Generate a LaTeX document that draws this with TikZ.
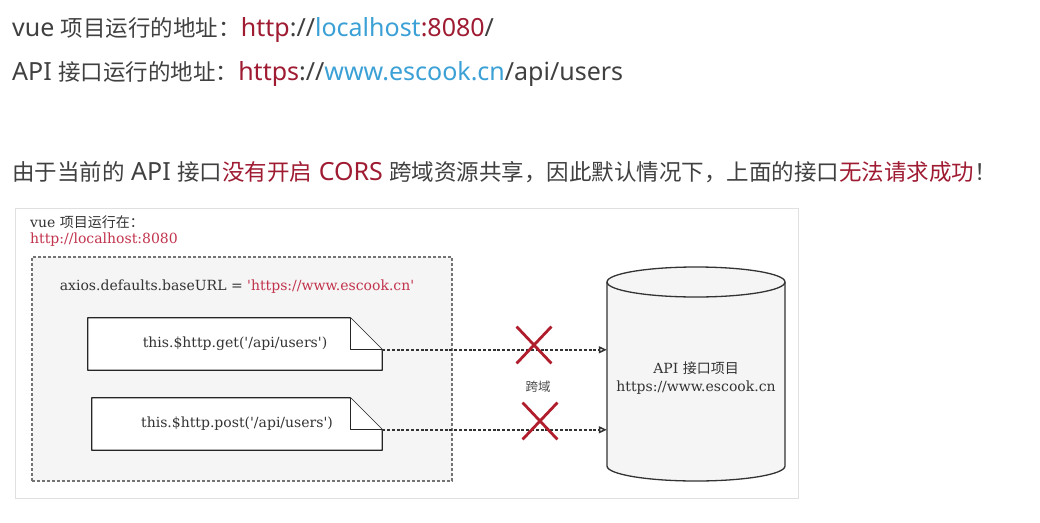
\documentclass[tikz,border=0pt]{standalone}
\usepackage{fontspec}
\setmainfont{Noto Sans}
\newfontfamily\dgm{DejaVu Serif}
\newfontfamily\cjk{Noto Sans CJK SC}
\newcommand\zh[1]{{\cjk\fontsize{22.5}{26}\selectfont #1}}
\usetikzlibrary{positioning, arrows.meta, calc, shapes.misc}
\definecolor{txtgray}{HTML}{404040}
\definecolor{hired}{HTML}{9E1B32}
\definecolor{hiblue}{HTML}{3AA0D5}
\definecolor{pinkred}{HTML}{C2334D}
\definecolor{crossred}{HTML}{B01E2D}

\begin{document}
\begin{tikzpicture}[x=1pt, y=-1pt,
    line/.style = {anchor=base west, inner sep=0pt, text=txtgray, font=\fontsize{25}{28}\selectfont},
    small/.style = {inner sep=0pt, text=black!80, font=\dgm\fontsize{14}{18}\selectfont},
    note/.style = {draw=black!85, line width=1.3pt, fill=white, line join=round},
    req/.style = {dash pattern=on 3pt off 1.8pt, line width=1.5pt, black!80, -{Triangle[open, length=8pt, width=7pt]}},
    cross/.style = {cross out, draw=crossred, line width=2.8pt, inner sep=0pt, minimum width=32pt, minimum height=34pt}]
    \useasboundingbox (0,0) rectangle (1040,522);

    % text above the picture
    \node[line] (vueaddr) at (12,36) {vue \zh{项目运行的地址：}\textcolor{hired}{http}://\textcolor{hiblue}{localhost}\textcolor{hired}{:8080}/};
    \node[line] (apiaddr) at (12,80) {API \zh{接口运行的地址：}\textcolor{hired}{https}://\textcolor{hiblue}{www.escook.cn}/api/users};
    \node[line] (reason) at (12,180) {\zh{由于当前的} API \zh{接口}\textcolor{hired}{\zh{没有开启} CORS} \zh{跨域资源共享，因此默认情况下，上面的接口}\textcolor{hired}{\zh{无法请求成功}}\zh{！}};

    % picture
    \draw[draw=black!12, fill=white] (15,208) rectangle (798,498);
    \node[small, anchor=north west] (vuelabel) at (30,216) {vue {\cjk 项目运行在：}};
    \node[small, text=pinkred] (vueurl) [below=3pt of vuelabel.south west, anchor=north west] {http://localhost:8080};
    \node[draw=black!55, densely dashed, line width=1.1pt, fill=black!4, minimum width=420pt, minimum height=224pt] (vuebox) at (242,369) {};
    \node[small] (axios) at (237,287) {axios.defaults.baseURL = \textcolor{pinkred}{'https://www.escook.cn'}};

    \path (235,344) node[minimum width=294pt, minimum height=52pt] (get) {};
    \draw[note] (get.south west) -- (get.north west) -- ([xshift=-32pt]get.north east) -- ([yshift=-32pt]get.north east) -- (get.south east) -- cycle;
    \draw[note] ([xshift=-32pt]get.north east) -- ([xshift=-32pt, yshift=-32pt]get.north east) -- ([yshift=-32pt]get.north east);
    \node[small] (gettext) at (get) {this.\$http.get('/api/users')};

    \path (237,424) node[minimum width=290pt, minimum height=52pt] (post) {};
    \draw[note] (post.south west) -- (post.north west) -- ([xshift=-32pt]post.north east) -- ([yshift=-32pt]post.north east) -- (post.south east) -- cycle;
    \draw[note] ([xshift=-32pt]post.north east) -- ([xshift=-32pt, yshift=-32pt]post.north east) -- ([yshift=-32pt]post.north east);
    \node[small] (posttext) at (post) {this.\$http.post('/api/users')};

    % server
    \filldraw[draw=black!80, fill=black!4, line width=1.3pt] (607,282) -- (607,466) arc[start angle=180, end angle=360, x radius=89pt, y radius=15pt] -- (785,282) arc[start angle=0, end angle=180, x radius=89pt, y radius=15pt] -- cycle;
    \draw[black!80, line width=1.3pt] (607,282) arc[start angle=180, end angle=360, x radius=89pt, y radius=15pt];
    \node[small, align=center, minimum width=178pt] (api) at (696,378) {API {\cjk 接口项目}\\https://www.escook.cn};

    \coordinate (gettip) at ([yshift=-32pt]get.north east);
    \coordinate (posttip) at ([yshift=-32pt]post.north east);
    \draw[req] (gettip) -- (gettip -| api.west);
    \draw[req] (posttip) -- (posttip -| api.west);

    \node[cross] (cross1) at (534,345) {};
    \node[cross] (cross2) at (540,421) {};
    \node[inner sep=0pt, text=black!70, font=\cjk\fontsize{12.5}{15}\selectfont] (kuayu) at (538,387) {跨域};
\end{tikzpicture}
\end{document}
